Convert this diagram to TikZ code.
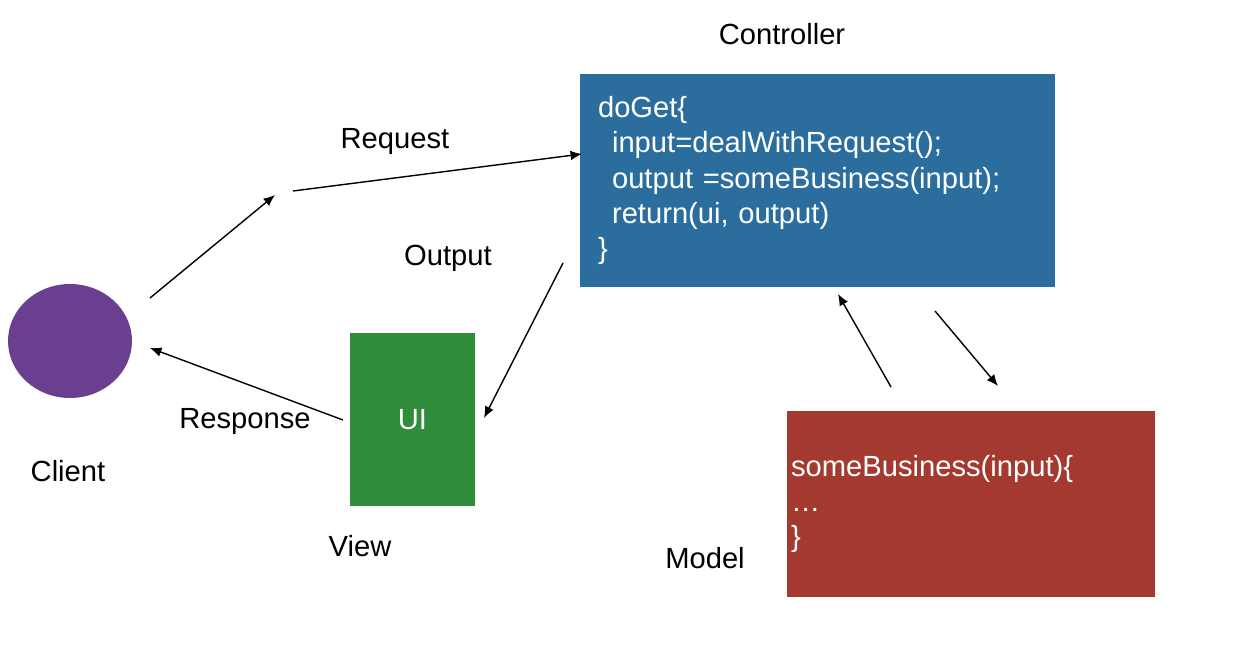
\documentclass[tikz,border=0pt]{standalone}
\usepackage{fontspec}
\setmainfont{Liberation Sans}
\usepackage{tikz}
\usetikzlibrary{positioning, shapes.geometric, arrows.meta}

\definecolor{clientpurple}{HTML}{6B3F8F}
\definecolor{ctrlblue}{HTML}{2B6E9E}
\definecolor{viewgreen}{HTML}{2F8C3B}
\definecolor{modelred}{HTML}{A3392F}

\newcommand{\mvcfont}{\fontsize{16.6}{20}\selectfont}

\begin{document}
\begin{tikzpicture}[x=0.02cm, y=-0.02cm,
                client/.style={ellipse, fill=clientpurple, minimum width=2.48cm, minimum height=2.28cm},
                codebox/.style={rectangle, text=white, align=left, font=\mvcfont, anchor=center},
                edge/.style={thick, -{Latex[length=6.5pt, width=5.5pt]}},
                lbl/.style={font=\mvcfont, text=black}
            ]
            \useasboundingbox (0,0) rectangle (1244,645);

            % Knoten
            \node[client] (C) at (70,341) {};
            \node[codebox, fill=ctrlblue, minimum width=9.5cm, minimum height=4.26cm,
                  text width=8.78cm, inner xsep=0.36cm] (Ctrl) at (817.5,180.5)
                {doGet\{\\
                 \hspace*{0.28cm}input=dealWithRequest();\\
                 \hspace*{0.28cm}output =someBusiness(input);\\
                 \hspace*{0.28cm}return(ui, output)\\
                 \}};
            \node[codebox, fill=viewgreen, minimum width=2.5cm, minimum height=3.46cm, align=center] (V) at (412.5,419.5) {UI};
            \node[codebox, fill=modelred, minimum width=7.36cm, minimum height=3.72cm,
                  text width=7.2cm, inner xsep=0.08cm] (M) at (971,504)
                {someBusiness(input)\{\\
                 \dots\\
                 \}};

            % Beschriftungen
            \node[lbl] (lC) at (68,471) {Client};
            \node[lbl] (lCtrl) at (782,34) {Controller};
            \node[lbl] (lV) at (360,546) {View};
            \node[lbl] (lM) at (705,558) {Model};
            \node[lbl] (lReq) at (395,141) {Request};
            \node[lbl] (lOut) at (448,258) {Output};
            \node[lbl] (lResp) at (245,421) {Response};

            % Endpunkte
            \coordinate (reqA) at (150,298);
            \coordinate (reqB) at (275,195);
            \coordinate (reqC) at (293,191);
            \coordinate (reqD) at (582,154);
            \coordinate (outA) at (563,263);
            \coordinate (outB) at (484,418);
            \coordinate (respA) at (343,420);
            \coordinate (respB) at (150,348);
            \coordinate (upA) at (891,387);
            \coordinate (upB) at (838,294);
            \coordinate (dnA) at (935,311);
            \coordinate (dnB) at (998,386);

            % Kanten zwischen Knoten
            \draw[edge] (reqA) -- (reqB);
            \draw[edge] (reqC) -- (reqD);
            \draw[edge] (outA) -- (outB);
            \draw[edge] (respA) -- (respB);
            \draw[edge] (upA) -- (upB);
            \draw[edge] (dnA) -- (dnB);

        \end{tikzpicture}
\end{document}
